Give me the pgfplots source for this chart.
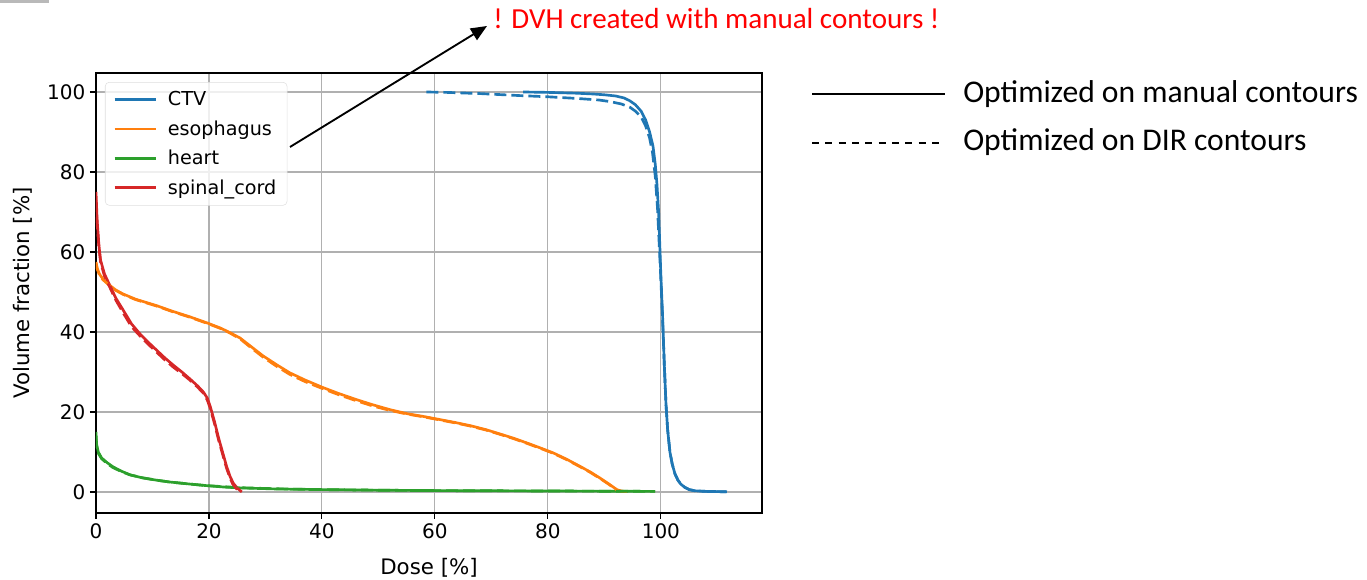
\documentclass[border=0pt]{standalone}
\usepackage{pgfplots}
\pgfplotsset{compat=1.18}
\usepackage{fontspec}
\setmainfont{DejaVu Sans}
\newfontfamily\calibri{Carlito}
\usetikzlibrary{arrows.meta}
\definecolor{cctv}{HTML}{1F77B4}
\definecolor{cesoph}{HTML}{FF7F0E}
\definecolor{cheart}{HTML}{2CA02C}
\definecolor{cspinal}{HTML}{D62728}
\definecolor{gridc}{HTML}{B0B0B0}
\begin{document}
\begin{tikzpicture}
\path[use as bounding box] (0pt,0pt) rectangle (1025.25pt,435pt);
\fill[gray!55] (0pt,435pt) rectangle (36.75pt,432.75pt);
\begin{axis}[
  at={(72pt,50.25pt)}, anchor=south west,
  scale only axis, width=499.5pt, height=330pt,
  xmin=0, xmax=117.9, ymin=-5.25, ymax=104.75,
  xtick={0,20,40,60,80,100}, ytick={0,20,40,60,80,100},
  tick pos=left, tick align=outside, major tick length=4.5pt,
  tick style={black, line width=0.8pt},
  axis line style={black, line width=1pt},
  grid=major, major grid style={gridc, line width=0.8pt},
  /pgf/number format/assume math mode=true,
  tick label style={font=\fontsize{15}{17}\selectfont},
  every axis x label/.style={at={(axis description cs:0.5,-0.125)}, anchor=center},
  every axis y label/.style={at={(axis description cs:-0.1096,0.5)}, rotate=90, anchor=center},
  label style={font=\fontsize{16}{18}\selectfont},
  xlabel={Dose [\%]}, ylabel={Volume fraction [\%]},
  legend cell align=left,
  legend style={at={(0.0135,0.9795)}, anchor=north west,
    font=\fontsize{14.4}{16}\selectfont,
    draw=gray!25, rounded corners=3pt, fill=white, fill opacity=0.8, text opacity=1,
    inner xsep=6pt, inner ysep=5pt, row sep=5.6pt,
    /tikz/every odd column/.append style={column sep=6pt}},
  legend image code/.code={\draw[#1, line width=2pt, solid] (0pt,0pt) -- (31pt,0pt);},
  every axis plot/.append style={line width=2pt, line join=round},
]
% ---- optimized on manual contours (solid)
\addplot[cctv] coordinates {
(75.6,100) (80,99.9) (85,99.7) (88,99.5) (90,99.3) (92,99.0) (93.5,98.5) (94.5,97.8)
(95.5,96.8) (96.5,95.2) (97.3,93) (98,90) (98.6,86.5) (99,82) (99.3,77) (99.6,70)
(99.8,62) (100.0,54) (100.3,44) (100.6,32) (100.9,22) (101.2,15.5) (101.6,10) (102,7)
(102.5,4.5) (103,3) (103.5,2) (104.2,1.2) (105,0.6) (106,0.3) (108,0.15) (111.7,0.05)};
\addlegendentry{CTV}
\addplot[cesoph] coordinates {
(0,57.5) (0.2,56) (0.6,54.5) (1.2,53.3) (2.5,51.6) (3.5,50.5) (4.8,49.5) (7,48.2)
(10.7,46.6) (13.5,45.2) (16.6,43.8) (19.8,42.2) (22,41) (23.5,40) (25.5,38.5) (27.5,36.3)
(29.6,34) (32,31.8) (34.3,29.8) (37,28) (40.2,26.1) (43,24.6) (46.1,23.1) (49,21.8)
(52,20.6) (55,19.6) (57.9,18.9) (60.9,18.1) (63.5,17.4) (66.2,16.6) (69,15.6) (72,14.3)
(74,13.4) (76.2,12.3) (78.5,11.1) (80.9,9.8) (83.3,8.2) (85.7,6.4) (87.5,5) (89.2,3.5)
(90.8,2) (92.2,0.6) (93,0.2) (94,0.1)};
\addlegendentry{esophagus}
\addplot[cheart] coordinates {
(0,15) (0.1,12) (0.4,10) (1.0,8.5) (2,7.3) (3,6.3) (4.5,5.2) (6,4.3) (8,3.6) (10.5,3)
(13,2.5) (16.5,2) (19.5,1.6) (23,1.2) (26,1) (32,0.75) (40,0.6) (50,0.45) (60,0.35)
(70,0.3) (80,0.25) (90,0.2) (99,0.15)};
\addlegendentry{heart}
\addplot[cspinal] coordinates {
(0,75) (0.2,68) (0.5,62) (0.8,58) (1.5,54.5) (2.5,51.5) (3.5,48.5) (4.8,45.5) (6.3,42)
(7.8,39.5) (9.2,37.5) (10.7,35.5) (12.2,33.5) (13.7,31.7) (15.2,30) (16.6,28.3) (18,26.5)
(19,25) (19.7,23.5) (20.2,21.5) (21,17.5) (21.7,13.5) (22.4,10) (23.1,6.5) (23.7,4)
(24.3,2.2) (25,1) (25.8,0)};
\addlegendentry{spinal\_cord}
% ---- optimized on DIR contours (dashed)
\addplot[cctv, dash pattern=on 9pt off 3.75pt, forget plot] coordinates {
(58.5,100) (62,99.9) (68,99.6) (75,99.1) (80,98.8) (85,98.4) (89,98) (91,97.6) (93,97)
(94.5,96.2) (95.5,95.2) (96.5,93.8) (97.3,91.5) (98,88.5) (98.5,85) (99,79) (99.4,71)
(99.7,62) (100,53) (100.3,43) (100.6,32) (100.9,22) (101.2,15.5) (101.6,10) (102,7)
(102.5,4.5) (103,3) (103.5,2) (104.2,1.2) (105,0.6) (106,0.3) (108,0.15) (111.5,0.05)};
\addplot[cesoph, dash pattern=on 9pt off 3.75pt, forget plot] coordinates {
(0,57.3) (0.2,55.8) (0.6,54.3) (1.2,53.1) (2.5,51.5) (3.5,50.4) (4.8,49.4) (7,48.1)
(10.7,46.5) (13.5,45.1) (16.6,43.7) (19.8,42.1) (22,40.9) (23.5,39.9) (25.5,38.3) (27.5,36)
(29.6,33.7) (32,31.4) (34.3,29.4) (37,27.6) (40.2,25.8) (43,24.3) (46.1,22.8) (49,21.5)
(52,20.4) (55,19.5) (57.9,18.8) (60.9,18) (63.5,17.3) (66.2,16.5) (69,15.5) (72,14.2)
(74,13.3) (76.2,12.2) (78.5,11) (80.9,9.7) (83.3,8.1) (85.7,6.3) (87.5,4.9) (89.2,3.4)
(90.8,1.9) (92.2,0.5) (93,0.2) (94,0.1)};
\addplot[cheart, dash pattern=on 9pt off 3.75pt, forget plot] coordinates {
(0,14) (0.1,11.5) (0.4,9.7) (1.0,8.3) (2,7.1) (3,6.1) (4.5,5.1) (6,4.3) (8,3.6) (10.5,3)
(13,2.5) (16.5,2) (19.5,1.6) (23,1.3) (26,1.05) (32,0.8) (40,0.6) (50,0.45) (60,0.35)
(70,0.3) (80,0.25) (90,0.2) (99,0.15)};
\addplot[cspinal, dash pattern=on 9pt off 3.75pt, forget plot] coordinates {
(0,73) (0.2,67) (0.5,61.5) (0.8,57.5) (1.5,54) (2.5,51) (3.5,48) (4.8,44.8) (6.3,41.3)
(7.8,39) (9.2,37) (10.7,35) (12.2,33) (13.7,31.2) (15.2,29.6) (16.6,28) (18,26.2)
(19,24.7) (19.7,23) (20.2,21) (21,17) (21.7,13) (22.4,9.5) (23.1,6) (23.7,3.6)
(24.2,2) (24.8,0.9) (25.5,0)};
\end{axis}
% annotation arrow and red note
\draw[line width=1.4pt, -{Triangle[length=12pt,width=10pt]}] (217.5pt,324.75pt) -- (365.25pt,415.5pt);
\node[anchor=west, inner sep=0pt, text=red, font=\calibri\fontsize{21.8}{24}\selectfont] at (369.75pt,420.75pt) {! DVH created with manual contours !};
% right-hand line style key
\draw[line width=1.3pt] (609pt,364.5pt) -- (708.75pt,364.5pt);
\draw[line width=1.1pt, dash pattern=on 5.25pt off 4.75pt] (609pt,327.75pt) -- (708.75pt,327.75pt);
\node[anchor=west, inner sep=0pt, font=\calibri\fontsize{23.7}{26}\selectfont] at (722.25pt,364.5pt) {Optimized on manual contours};
\node[anchor=west, inner sep=0pt, font=\calibri\fontsize{23.7}{26}\selectfont] at (722.25pt,328.5pt) {Optimized on DIR contours};
\end{tikzpicture}
\end{document}
